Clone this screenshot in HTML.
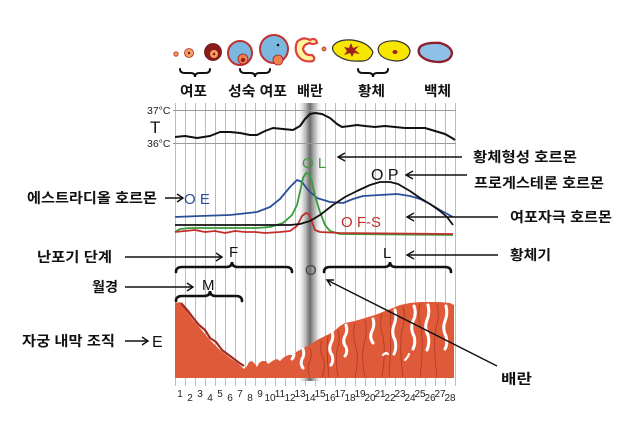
<!DOCTYPE html>
<html><head><meta charset="utf-8"><style>
html,body{margin:0;padding:0;background:#fff;}
svg{display:block;}
.k{font-family:"Liberation Sans","Noto Sans CJK KR",sans-serif;font-weight:bold;font-size:14px;fill:#111;}
.l{font-family:"Liberation Sans",sans-serif;}
</style></head><body>
<svg width="630" height="424" viewBox="0 0 630 424" xmlns="http://www.w3.org/2000/svg">
<defs>
<linearGradient id="band" x1="0" x2="1" y1="0" y2="0">
<stop offset="0" stop-color="#ffffff" stop-opacity="0"/>
<stop offset="0.3" stop-color="#b0b0b0" stop-opacity="0.8"/>
<stop offset="0.5" stop-color="#6a6a6a"/>
<stop offset="0.7" stop-color="#b0b0b0" stop-opacity="0.8"/>
<stop offset="1" stop-color="#ffffff" stop-opacity="0"/>
</linearGradient>
</defs>
<rect width="630" height="424" fill="#fff"/>

<!-- ovulation band -->
<rect x="297" y="103" width="26" height="278" fill="url(#band)"/>

<!-- grid -->
<g stroke="#bdbdbd" stroke-width="1">
<line x1="175.5" y1="103" x2="175.5" y2="386"/><line x1="185.5" y1="103" x2="185.5" y2="386"/><line x1="195.5" y1="103" x2="195.5" y2="386"/><line x1="205.5" y1="103" x2="205.5" y2="386"/><line x1="215.5" y1="103" x2="215.5" y2="386"/><line x1="225.5" y1="103" x2="225.5" y2="386"/><line x1="235.5" y1="103" x2="235.5" y2="386"/><line x1="245.5" y1="103" x2="245.5" y2="386"/><line x1="255.5" y1="103" x2="255.5" y2="386"/><line x1="265.5" y1="103" x2="265.5" y2="386"/><line x1="275.5" y1="103" x2="275.5" y2="386"/><line x1="285.5" y1="103" x2="285.5" y2="386"/><line x1="295.5" y1="103" x2="295.5" y2="386"/><line x1="305.5" y1="103" x2="305.5" y2="386"/><line x1="315.5" y1="103" x2="315.5" y2="386"/><line x1="325.5" y1="103" x2="325.5" y2="386"/><line x1="335.5" y1="103" x2="335.5" y2="386"/><line x1="345.5" y1="103" x2="345.5" y2="386"/><line x1="355.5" y1="103" x2="355.5" y2="386"/><line x1="365.5" y1="103" x2="365.5" y2="386"/><line x1="375.5" y1="103" x2="375.5" y2="386"/><line x1="385.5" y1="103" x2="385.5" y2="386"/><line x1="395.5" y1="103" x2="395.5" y2="386"/><line x1="405.5" y1="103" x2="405.5" y2="386"/><line x1="415.5" y1="103" x2="415.5" y2="386"/><line x1="425.5" y1="103" x2="425.5" y2="386"/><line x1="435.5" y1="103" x2="435.5" y2="386"/><line x1="445.5" y1="103" x2="445.5" y2="386"/><line x1="455.5" y1="103" x2="455.5" y2="386"/>
</g>
<g stroke="#9a9a9a" stroke-width="1">
<line x1="173" y1="110.5" x2="456" y2="110.5"/>
<line x1="173" y1="143.5" x2="456" y2="143.5"/>
</g>

<!-- temperature labels -->
<g class="l" fill="#222" font-size="10.5">
<text x="147" y="114">37°C</text>
<text x="147" y="147">36°C</text>
</g>
<text x="150" y="133" class="l" font-size="17" fill="#111">T</text>

<!-- temperature curve -->
<polyline fill="none" stroke="#111" stroke-width="2" stroke-linejoin="round" points="175,137 185,136 197,138 210,136 220,132 230,132 240,133 250,135 257,135 265,131 273,128 283,129 293,130 300,126 305,119 310,114 315,113 322,114 330,118 337,124 342,127 350,126 357,125 365,126 375,127 385,126 395,127 405,128 415,128 425,128 435,131 445,134 452,138 455,140"/>

<!-- hormone curves -->
<polyline fill="none" stroke="#2a4f9a" stroke-width="1.8" stroke-linejoin="round" points="175,217 200,216 230,215 257,212 270,207 280,199 290,187 297,180 302,182 308,190 317,198 330,202 343,203 353,199 363,196 380,195 397,194 410,196 420,199 430,204 440,210 453,217"/>
<polyline fill="none" stroke="#3a9c3a" stroke-width="1.8" stroke-linejoin="round" points="175,232 180,229 190,228 257,228 270,227 283,223 292,215 297,205 300,192 303,178 306,173 309,174 312,182 315,196 320,212 325,225 330,231 340,234 453,235"/>
<polyline fill="none" stroke="#c0302a" stroke-width="1.8" stroke-linejoin="round" points="175,232 185,231 195,230 205,232 215,231 225,233 235,231 245,232 255,232 265,233 280,232 290,231 297,226 302,216 306,213 309,214 312,222 315,230 320,232 340,233 453,234"/>
<polyline fill="none" stroke="#111" stroke-width="1.8" stroke-linejoin="round" points="175,225 290,225 300,224 310,221 320,215 333,205 345,197 357,191 370,185 380,182 390,182 398,184 410,191 420,198 430,204 440,211 447,217 453,225"/>

<!-- curve labels -->
<text x="302" y="168" class="l" font-size="15" fill="#3a9c3a">O L</text>
<text x="371" y="180" class="l" font-size="16" fill="#111">O P</text>
<text x="341" y="227" class="l" font-size="15" fill="#c0302a">O F-S</text>
<text x="184" y="204" class="l" font-size="15" fill="#2a4f9a">O E</text>

<!-- braces -->
<g stroke="#111" stroke-width="2.6" fill="none" stroke-linecap="round">
<path d="M176,272 Q176,267 182,267 L226,267 Q232,267 232,262 Q232,267 238,267 L286,267 Q292,267 292,272"/>
<path d="M324,272 Q324,267 330,267 L384,267 Q390,267 390,262 Q390,267 396,267 L445,267 Q451,267 451,272"/>
<path d="M176,301 Q176,296 182,296 L204,296 Q210,296 210,291 Q210,296 216,296 L236,296 Q242,296 242,301"/>
<path d="M180,69 Q180,73 185,73 L191,73 Q195,73 195,77 Q195,73 199,73 L205,73 Q210,73 210,69" stroke-width="2"/>
<path d="M240,69 Q240,73 245,73 L251,73 Q255,73 255,77 Q255,73 259,73 L265,73 Q270,73 270,69" stroke-width="2"/>
<path d="M358,69 Q358,73 363,73 L369,73 Q373,73 373,77 Q373,73 377,73 L383,73 Q388,73 388,69" stroke-width="2"/>
</g>

<text x="229" y="257" class="l" font-size="15" fill="#111">F</text>
<text x="383" y="258" class="l" font-size="15" fill="#111">L</text>
<text x="305" y="275" class="l" font-size="15" fill="#444">O</text>
<text x="202" y="290" class="l" font-size="15" fill="#111">M</text>
<text x="152" y="347" class="l" font-size="16" fill="#111">E</text>

<!-- endometrium -->
<path fill="#df5a38" d="M175,303 L180,302 L186,310 L193,320 L200,328 L210,340 L220,350 L230,358 L240,365 L244,369 L247,366 L249,362 L252,361 L255,364 L257,367 L259,363 L262,361 L266,361 L268,364 L271,362 L274,360 L277,359 L280,361 L283,358 L286,356 L289,355 L292,355 L294,358 L296,352 L300,350 L305,347 L310,345 L317,340 L325,336 L333,332 L340,326 L345,323 L355,321 L365,318 L375,315 L385,311 L393,308 L400,305 L410,303 L420,302 L430,302 L440,302 L450,303 L454,305 L454,378 L175,378 Z"/>
<path fill="none" stroke="#9e2a22" stroke-width="2.2" d="M181,303 L188,311 L194,319 L199,325 L205,330 L210,338 L216,342 L222,350 L230,356 L238,362 L244,366"/>
<!-- vessels -->
<g fill="none" stroke="#a8321f" stroke-width="0.8" opacity="0.85">
<path d="M310,348 q3,8 -1,15 q-2,7 1,14"/><path d="M322,340 q-3,10 1,18 q3,8 -1,19"/>
<path d="M338,330 q3,10 -1,20 q-2,10 1,27"/><path d="M355,323 q-3,12 1,24 q3,12 -1,30"/>
<path d="M365,320 q3,12 -1,24 q-3,12 1,33"/><path d="M382,313 q-3,12 1,24 q3,15 -1,40"/>
<path d="M403,306 q3,12 -1,24 q-3,15 1,47"/><path d="M420,304 q-3,12 1,24 q3,15 -1,49"/>
<path d="M437,304 q3,12 -1,24 q-3,15 1,49"/><path d="M328,336 q-2,14 1,41"/><path d="M390,310 q2,20 -1,67"/>
</g>
<!-- gland gaps -->
<g fill="none" stroke="#fff" stroke-width="3" stroke-linecap="round">
<path d="M293,352 q2,4 -1,7"/>
<path d="M303,349 q2,6 -1,10 q-2,5 1,9"/>
<path d="M332,331 q2,7 -1,12 q-3,7 1,12 q2,6 -1,10"/>
<path d="M346,325 q2,6 -1,11 q-3,6 1,11 q2,5 -1,9"/>
<path d="M373,319 q2,6 -1,12 q-3,6 1,12"/>
<path d="M395,310 q2,8 -1,15 q-3,8 1,15 q2,8 -1,14"/>
<path d="M414,306 q3,8 -1,15 q-3,8 1,15 q2,7 -1,13"/>
<path d="M428,305 q2,8 -1,15 q-3,8 1,15 q2,8 -1,15"/>
<path d="M446,306 q2,8 -1,15 q-3,8 1,15 q2,8 -1,13"/>
<path d="M383,355 q3,-3 5,-1" stroke-width="2.2"/>
<path d="M405,360 q3,-3 4,-6" stroke-width="2.2"/>
</g>

<!-- arrows (drawn over endometrium) -->
<g stroke="#111" stroke-width="1.4" fill="none">
<line x1="338" y1="157" x2="462" y2="157"/><path d="M345,153 L338,157 L345,161"/>
<line x1="406" y1="175" x2="467" y2="175"/><path d="M413,171 L406,175 L413,179"/>
<line x1="407" y1="217" x2="498" y2="217"/><path d="M414,213 L407,217 L414,221"/>
<line x1="407" y1="255" x2="498" y2="255"/><path d="M414,251 L407,255 L414,259"/>
<line x1="165" y1="198" x2="183" y2="198"/><path d="M177,194 L183,198 L177,202"/>
<line x1="125" y1="257" x2="222" y2="257"/><path d="M216,253 L222,257 L216,261"/>
<line x1="125" y1="287" x2="193" y2="287"/><path d="M187,283 L193,287 L187,291"/>
<line x1="125" y1="341" x2="148" y2="341"/><path d="M142,337 L148,341 L142,345"/>
<line x1="497" y1="366" x2="327" y2="280"/><path d="M331,286 L327,280 L334,280"/>
</g>

<!-- day labels -->
<g class="l" font-size="10" fill="#222" text-anchor="middle">
<text x="180" y="397">1</text><text x="190" y="401">2</text><text x="200" y="397">3</text><text x="210" y="401">4</text><text x="220" y="397">5</text><text x="230" y="401">6</text><text x="240" y="397">7</text><text x="250" y="401">8</text><text x="260" y="397">9</text><text x="270" y="401">10</text><text x="280" y="397">11</text><text x="290" y="401">12</text><text x="300" y="397">13</text><text x="310" y="401">14</text><text x="320" y="397">15</text><text x="330" y="401">16</text><text x="340" y="397">17</text><text x="350" y="401">18</text><text x="360" y="397">19</text><text x="370" y="401">20</text><text x="380" y="397">21</text><text x="390" y="401">22</text><text x="400" y="397">23</text><text x="410" y="401">24</text><text x="420" y="397">25</text><text x="430" y="401">26</text><text x="440" y="397">27</text><text x="450" y="401">28</text>
</g>

<!-- top icons -->
<circle cx="176" cy="54" r="2.2" fill="#f2a060" stroke="#b03020" stroke-width="0.8"/>
<circle cx="189" cy="53" r="4.5" fill="#f2a060" stroke="#b03020" stroke-width="0.8"/>
<circle cx="189" cy="53" r="1.2" fill="#8b1a1a"/>
<circle cx="213" cy="52" r="8.5" fill="#8b1a1a" stroke="#6a1010" stroke-width="0.8"/>
<circle cx="214" cy="54" r="4" fill="#f2a060"/>
<circle cx="214" cy="54" r="1.3" fill="#8b1a1a"/>
<circle cx="240" cy="53" r="12" fill="#7ab8e0" stroke="#c03030" stroke-width="2"/>
<circle cx="243" cy="59" r="5" fill="#f08050" stroke="#a02020" stroke-width="0.8"/>
<circle cx="243" cy="60" r="2" fill="#8b1a1a"/>
<circle cx="274" cy="49" r="14" fill="#7ab8e0" stroke="#c03030" stroke-width="2"/>
<circle cx="278" cy="60" r="5" fill="#f08050" stroke="#a02020" stroke-width="0.8"/>
<circle cx="278" cy="45" r="1.3" fill="#111"/>
<path d="M297,42 Q303,36 310,40 Q316,37 317,43 Q312,45 310,43 Q304,44 303,49 Q305,56 312,55 Q316,58 313,61 Q303,63 298,56 Q294,50 297,42 Z" fill="#fff69a" stroke="#e04040" stroke-width="2.2"/>
<circle cx="324" cy="49" r="2" fill="#f08050" stroke="#a02020" stroke-width="0.7"/>
<path d="M333,46 Q338,39 352,40 Q368,42 373,52 Q370,62 360,61 Q347,62 338,56 Q331,51 333,46 Z" fill="#f7e600" stroke="#333" stroke-width="1.2"/>
<path d="M344,47 L349,48 L351,43 L353,48 L359,46 L355,50 L360,54 L354,53 L352,57 L350,53 L344,55 L347,51 Z" fill="#a02020"/>
<path d="M380,45 Q385,40 397,41 Q410,44 410,52 Q408,61 396,61 Q383,60 379,53 Q377,48 380,45 Z" fill="#f7e600" stroke="#333" stroke-width="1.2"/>
<ellipse cx="395" cy="52" rx="2.5" ry="2" fill="#a02020"/>
<path d="M421,46 Q427,42 440,43 Q451,46 452,53 Q451,61 440,62 Q426,62 420,55 Q417,50 421,46 Z" fill="#8ec0e8" stroke="#8b2030" stroke-width="2.4"/>

<!-- top labels -->
<text x="180" y="96" class="k" font-size="13.5" textLength="27" lengthAdjust="spacingAndGlyphs">여포</text>
<text x="228" y="96" class="k" font-size="13.5" textLength="59" lengthAdjust="spacingAndGlyphs">성숙 여포</text>
<text x="297" y="96" class="k" font-size="13.5" textLength="26" lengthAdjust="spacingAndGlyphs">배란</text>
<text x="358" y="96" class="k" font-size="13.5" textLength="27" lengthAdjust="spacingAndGlyphs">황체</text>
<text x="424" y="96" class="k" font-size="13.5" textLength="27" lengthAdjust="spacingAndGlyphs">백체</text>

<!-- right labels -->
<text x="473" y="162" class="k" textLength="104" lengthAdjust="spacingAndGlyphs">황체형성 호르몬</text>
<text x="474" y="188" class="k" textLength="130" lengthAdjust="spacingAndGlyphs">프로게스테론 호르몬</text>
<text x="510" y="222" class="k" textLength="102" lengthAdjust="spacingAndGlyphs">여포자극 호르몬</text>
<text x="510" y="260" class="k" textLength="41" lengthAdjust="spacingAndGlyphs">황체기</text>
<text x="501" y="384" class="k" textLength="31" lengthAdjust="spacingAndGlyphs">배란</text>

<!-- left labels -->
<text x="27" y="203" class="k" textLength="130" lengthAdjust="spacingAndGlyphs">에스트라디올 호르몬</text>
<text x="37" y="262" class="k" textLength="75" lengthAdjust="spacingAndGlyphs">난포기 단계</text>
<text x="92" y="292" class="k" textLength="26" lengthAdjust="spacingAndGlyphs">월경</text>
<text x="22" y="346" class="k" textLength="93" lengthAdjust="spacingAndGlyphs">자궁 내막 조직</text>
</svg>
</body></html>
